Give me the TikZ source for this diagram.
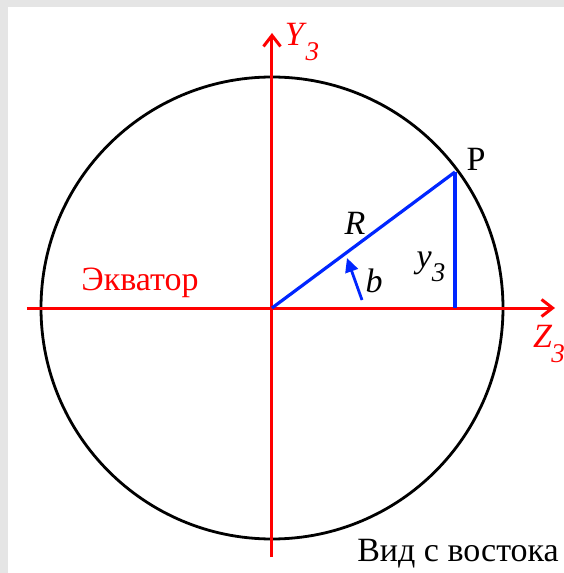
\documentclass[tikz,border=0pt]{standalone}
\usepackage{fontspec}
\setmainfont{Liberation Serif}
\usetikzlibrary{arrows.meta}

\tikzset{
  axis/.style={red,line width=3pt,-{Straight Barb[length=11pt,width=17pt,line width=3pt]}},
  blueline/.style={blue!85!cyan,line width=3.2pt},
  lbl/.style={font=\fontsize{34}{40}\selectfont,inner sep=0pt}
}
\newcommand{\sub}[3][-1pt]{\textit{#2}\kern#1\raisebox{-0.42em}{\fontsize{27}{32}\selectfont\textit{#3}}}

\begin{document}
\begin{tikzpicture}[x=1pt,y=1pt]
	  % frame
	  \fill[gray!20] (-272,-265) rectangle (292,308);
	  \fill[white] (-264,-265) rectangle (292,301);
	  \useasboundingbox (-272,-265) rectangle (292,308);
	  \coordinate (O) at (0,0);
	  \coordinate (P) at (183,136);
	  \coordinate (F) at (183,0);
	  \coordinate (Ybot) at (0,-249);
	  \coordinate (Ytop) at (0,275);
	  \coordinate (Zleft) at (-245,0);
	  \coordinate (Zright) at (283,0);
	  \coordinate (btail) at (90,8);
	  \coordinate (bhead) at (75,50);
	  % circle
	  \draw[line width=2.8pt] (O) circle (231);
	  % axes
	  \draw[axis] (Zleft) -- (Zright);
	  \draw[axis] (Ybot) -- (Ytop);
	  % radius and y3
	  \draw[blueline] (O) -- (P);
	  \draw[blueline] (P) -- (F);
	  \draw[blueline,line width=2.8pt,-{Triangle[length=14pt,width=13pt]}] (btail) -- (bhead);
	  % labels
	  \node[lbl,red] (ylab) at (30,266) {\sub{Y}{3}};
	  \node[lbl,red] (zlab) at (277,-36) {\sub{Z}{3}};
	  \node[lbl,red] (ekv) at (-132,25) {Экватор};
	  \node[lbl] (plab) at (204,149) {P};
	  \node[lbl] (rlab) at (83,85) {\textit{R}};
	  \node[lbl] (blab) at (102,27) {\textit{b}};
	  \node[lbl] (y3lab) at (159,41) {\sub[0pt]{y}{3}};
	  \node[lbl,anchor=east] (vid) at (287,-246) {Вид с востока};
\end{tikzpicture}
\end{document}
